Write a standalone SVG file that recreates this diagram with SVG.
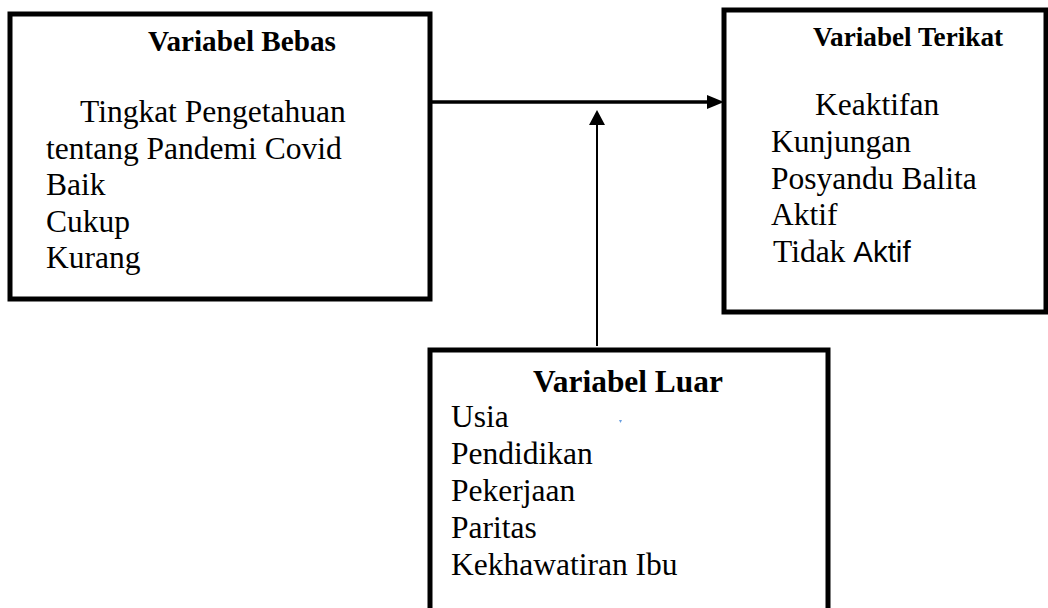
<svg xmlns="http://www.w3.org/2000/svg" width="1048" height="608" viewBox="0 0 1048 608">
<style>
.box{fill:#fff;stroke:#000;stroke-width:5}
.t{font-family:"Liberation Serif","Times New Roman",serif;font-size:31.5px;fill:#000}
.h{font-family:"Liberation Serif","Times New Roman",serif;font-weight:bold;fill:#000}
.s{font-family:"Liberation Sans",Arial,sans-serif}
.c{stroke:#000;fill:none}
</style>
<rect width="1048" height="608" fill="#fff"/>
<g id="connectors">
<line class="c" x1="432" y1="102" x2="707" y2="102" stroke-width="3.5"/>
<polygon points="707,95 724,102 707,109" fill="#000"/>
<line class="c" x1="597" y1="346" x2="597" y2="124" stroke-width="2"/>
<polygon points="589,125 597,110 605,125" fill="#000"/>
</g>
<g id="node-bebas">
<rect class="box" x="10" y="14" width="420" height="285"/>
<text class="h" x="242" y="51" font-size="29.2" text-anchor="middle">Variabel Bebas</text>
<text class="t" x="80" y="122">Tingkat Pengetahuan</text>
<text class="t" x="46" y="158.5">tentang Pandemi Covid</text>
<text class="t" x="46" y="195">Baik</text>
<text class="t" x="46" y="231.5">Cukup</text>
<text class="t" x="46" y="268">Kurang</text>
</g>
<g id="node-terikat">
<rect class="box" x="724" y="10" width="322" height="302"/>
<text class="h" x="908" y="46" font-size="27.2" text-anchor="middle">Variabel Terikat</text>
<text class="t" x="815" y="115">Keaktifan</text>
<text class="t" x="771" y="152">Kunjungan</text>
<text class="t" x="771" y="188.5">Posyandu Balita</text>
<text class="t" x="771" y="225">Aktif</text>
<text class="t" x="773" y="261.5">Tidak <tspan class="s" font-size="29.5">Aktif</tspan></text>
</g>
<g id="node-luar">
<rect class="box" x="430" y="350" width="398" height="280"/>
<text class="h" x="628" y="392" font-size="31.4" text-anchor="middle">Variabel Luar</text>
<text class="t" x="451" y="427">Usia</text>
<text class="t" x="451" y="464">Pendidikan</text>
<text class="t" x="451" y="501">Pekerjaan</text>
<text class="t" x="451" y="538">Paritas</text>
<text class="t" x="451" y="575">Kekhawatiran Ibu</text>
<polygon points="619,420 622,420 620.5,423" fill="#6a9fe0"/>
</g>
</svg>
